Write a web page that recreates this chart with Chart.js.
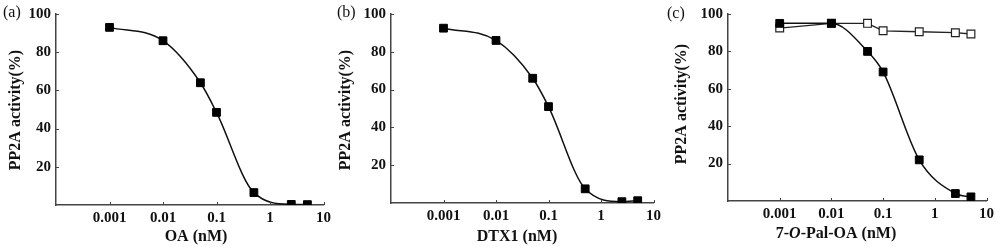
<!DOCTYPE html>
<html>
<head>
<meta charset="utf-8">
<script src="https://cdn.jsdelivr.net/npm/chart.js@4"></script>
<style>
  html, body { margin: 0; padding: 0; background: #fff; }
  body { width: 1000px; height: 247px; position: relative; overflow: hidden; }
  canvas { position: absolute; top: 0; }
</style>
</head>
<body>
<canvas id="ca" width="335" height="247" style="left:0px"></canvas>
<canvas id="cb" width="330" height="247" style="left:335px"></canvas>
<canvas id="cc" width="335" height="247" style="left:665px"></canvas>
<script>
// ---- data ----
const xTicks = [0.001, 0.01, 0.1, 1, 10];
const xTickLabels = ['0.001', '0.01', '0.1', '1', '10'];
const yTicks = [20, 40, 60, 80, 100];

const concA = [0.001, 0.01, 0.05, 0.1, 0.5, 2.5, 5];
const actA = [93, 86, 64, 48.5, 6.5, 0.3, 0.2];

const concB = [0.001, 0.01, 0.05, 0.1, 0.5, 2.5, 5];
const actB = [92.5, 86, 66, 51, 7.5, 0.7, 1.2];

const concC = [0.001, 0.01, 0.05, 0.1, 0.5, 2.5, 5];
const actCFilled = [95, 95, 80, 69, 22, 4, 2.2];
const actCOpen = [92.5, 95, 95, 91, 90.5, 90, 89.3];

const panelLabels = ['(a)', '(b)', '(c)'];
const yTitle = 'PP2A activity(%)';
const xTitles = [
  [{ t: 'OA (nM)' }],
  [{ t: 'DTX1 (nM)' }],
  [{ t: '7-' }, { t: 'O', italic: true }, { t: '-Pal-OA (nM)' }]
];

// ---- styling helpers ----
const AXIS_COLOR = '#444';
const TEXT_COLOR = '#111';
const SERIF = "'Liberation Serif', 'Times New Roman', serif";

Chart.defaults.font.family = SERIF;
Chart.defaults.font.size = 15;
Chart.defaults.font.weight = 'bold';
Chart.defaults.color = TEXT_COLOR;

const TICK_FONT = { family: SERIF, size: 15, weight: 'bold' };

const deco = {
  id: 'deco',
  afterDraw(chart, args, o) {
    const ctx = chart.ctx;
    const xs = chart.scales.x, ys = chart.scales.y;
    ctx.save();
    // small inner tick marks
    ctx.strokeStyle = AXIS_COLOR;
    ctx.lineWidth = 1;
    xTicks.forEach(v => {
      const px = Math.round(xs.getPixelForValue(v)) + 0.5;
      ctx.beginPath(); ctx.moveTo(px, ys.bottom); ctx.lineTo(px, ys.bottom - 3); ctx.stroke();
    });
    yTicks.forEach(v => {
      const py = Math.round(ys.getPixelForValue(v)) + 0.5;
      ctx.beginPath(); ctx.moveTo(xs.left, py); ctx.lineTo(xs.left + 3, py); ctx.stroke();
    });
    ctx.fillStyle = TEXT_COLOR;
    // panel label
    ctx.font = 'normal 16px ' + SERIF;
    ctx.textAlign = 'left';
    ctx.textBaseline = 'middle';
    ctx.fillText(o.label, o.labelX, o.labelY);
    // y title (rotated)
    ctx.save();
    ctx.translate(o.yTitleX, o.yTitleY);
    ctx.rotate(-Math.PI / 2);
    ctx.font = 'bold 16px ' + SERIF;
    ctx.textAlign = 'center';
    ctx.fillText(yTitle, 0, 0);
    ctx.restore();
    // x title (rich segments)
    const segs = o.xTitle;
    const fontFor = s => (s.italic ? 'italic bold 16px ' : 'bold 16px ') + SERIF;
    let total = 0;
    segs.forEach(s => { ctx.font = fontFor(s); total += ctx.measureText(s.t).width; });
    let cx = o.xTitleX - total / 2;
    ctx.textAlign = 'left';
    segs.forEach(s => { ctx.font = fontFor(s); ctx.fillText(s.t, cx, o.xTitleY); cx += ctx.measureText(s.t).width; });
    ctx.restore();
  }
};

function makeChart(id, datasets, geo, decoOpts) {
  return new Chart(document.getElementById(id), {
    type: 'line',
    data: { datasets },
    plugins: [deco],
    options: {
      responsive: false,
      animation: false,
      events: [],
      layout: { padding: { left: 0, top: geo.top, right: geo.right, bottom: 0 } },
      plugins: { legend: { display: false }, tooltip: { enabled: false }, deco: decoOpts },
      scales: {
        x: {
          type: 'logarithmic',
          min: 1e-4, max: 10,
          afterBuildTicks: s => { s.ticks = xTicks.map(v => ({ value: v })); },
          afterFit: s => { s.height = geo.xH; },
          ticks: {
            autoSkip: false, maxRotation: 0,
            padding: 4,
            color: TEXT_COLOR,
            font: TICK_FONT,
            callback: (v) => { const i = xTicks.findIndex(t => Math.abs(Math.log10(t) - Math.log10(v)) < 1e-6); return i >= 0 ? xTickLabels[i] : ''; }
          },
          grid: { display: false, drawTicks: false },
          border: { display: true, color: AXIS_COLOR, width: 1.5 }
        },
        y: {
          min: 0, max: 100,
          afterBuildTicks: s => { s.ticks = [0].concat(yTicks).map(v => ({ value: v })); },
          afterFit: s => { s.width = geo.yW; },
          ticks: {
            padding: 5,
            color: TEXT_COLOR,
            font: TICK_FONT,
            callback: v => (yTicks.includes(v) ? String(v) : '')
          },
          grid: { display: false, drawTicks: false },
          border: { display: true, color: AXIS_COLOR, width: 1.5 }
        }
      }
    }
  });
}

function filledSeries(xs, ys) {
  return {
    data: xs.map((x, i) => ({ x, y: ys[i] })),
    borderColor: '#111', borderWidth: 1.5,
    cubicInterpolationMode: 'monotone',
    pointStyle: 'rect', pointRadius: 5.5,
    pointBackgroundColor: '#000', pointBorderColor: '#000', pointBorderWidth: 1
  };
}
function openSeries(xs, ys) {
  return {
    data: xs.map((x, i) => ({ x, y: ys[i] })),
    borderColor: '#222', borderWidth: 1.3, tension: 0,
    pointStyle: 'rect', pointRadius: 5.5,
    pointBackgroundColor: '#fff', pointBorderColor: '#222', pointBorderWidth: 1.2
  };
}

makeChart('ca', [filledSeries(concA, actA)],
  { top: 7, right: 11, xH: 42, yW: 56 },
  { label: panelLabels[0], labelX: 3, labelY: 13, yTitleX: 16, yTitleY: 110, xTitle: xTitles[0], xTitleX: 196, xTitleY: 237 });

makeChart('cb', [filledSeries(concB, actB)],
  { top: 7, right: 7, xH: 44, yW: 56 },
  { label: panelLabels[1], labelX: 2, labelY: 13, yTitleX: 11, yTitleY: 110, xTitle: xTitles[1], xTitleX: 182, xTitleY: 237 });

makeChart('cc', [filledSeries(concC, actCFilled), openSeries(concC, actCOpen)],
  { top: 6, right: 13.5, xH: 46, yW: 63 },
  { label: panelLabels[2], labelX: 2, labelY: 14, yTitleX: 17, yTitleY: 104, xTitle: xTitles[2], xTitleX: 171, xTitleY: 234 });
</script>
</body>
</html>
